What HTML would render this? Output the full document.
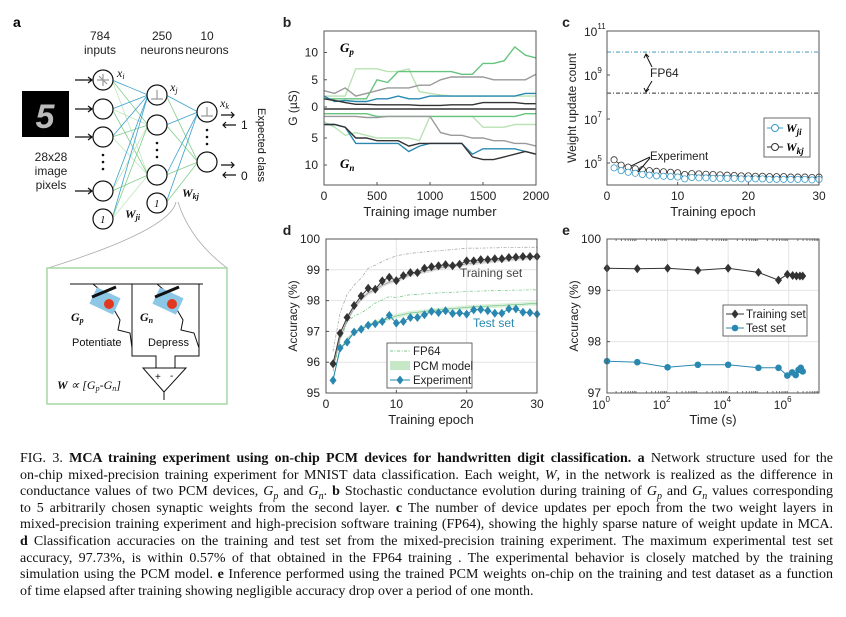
<!DOCTYPE html>
<html><head><meta charset="utf-8">
<style>
html,body{margin:0;padding:0;background:#fff;}
body{width:846px;height:617px;position:relative;overflow:hidden;font-family:"Liberation Sans",sans-serif;}
svg{position:absolute;left:0;top:0;}
.cap{position:absolute;left:20px;width:813px;font-family:"Liberation Serif",serif;font-size:14px;line-height:16px;text-align:justify;text-align-last:justify;white-space:nowrap;color:#111;}
.cap.last{text-align-last:left;}
</style></head>
<body>
<svg id="fig" width="846" height="440" viewBox="0 0 846 440" font-family="Liberation Sans, sans-serif">
<!-- panel a -->
<g>
<text x="13" y="27" font-weight="bold" font-size="14">a</text>
<g font-size="12" fill="#222" text-anchor="middle">
<text x="100" y="40">784</text><text x="100" y="54">inputs</text>
<text x="162" y="40">250</text><text x="162" y="54">neurons</text>
<text x="207" y="40">10</text><text x="207" y="54">neurons</text>
<text x="51" y="161">28x28</text><text x="51" y="175">image</text><text x="51" y="189">pixels</text>
</g>
<rect x="22" y="91" width="47" height="46" fill="#000"/>
<text x="45" y="128" text-anchor="middle" font-size="34" font-style="italic" font-weight="bold" fill="#bbb" font-family="Liberation Sans, sans-serif">5</text>
<g id="conn" stroke-width="0.8"></g>
<g id="nodes" fill="#fff" stroke="#111" stroke-width="1.2"></g>
<g font-family="Liberation Serif, serif" font-style="italic" font-size="12" fill="#111">
<text x="117" y="77">x<tspan font-size="8" dy="2">i</tspan></text>
<text x="170" y="91">x<tspan font-size="8" dy="2">j</tspan></text>
<text x="220" y="107">x<tspan font-size="8" dy="2">k</tspan></text>
<text x="125" y="218" font-weight="bold">W<tspan font-size="8" dy="2">ji</tspan></text>
<text x="182" y="197" font-weight="bold">W<tspan font-size="8" dy="2">kj</tspan></text>
</g>
<g font-size="12" fill="#111">
<text x="241" y="129">1</text><text x="241" y="180">0</text>
<text transform="translate(258,108) rotate(90)" font-size="11">Expected class</text>
</g>
<path d="M176 202 Q 170 230 48 268 M178 202 Q 190 240 227 268" fill="none" stroke="#aaa" stroke-width="0.8"/>
<rect x="47" y="268" width="180" height="136" fill="#fff" stroke="#a6d9a6" stroke-width="1.5"/>
<g stroke="#111" stroke-width="1" fill="none">
<path d="M70 284 H203 M132 284 V356 H156 V368 M199 284 V356 H175 V368"/>
<path d="M143 368 H186 L164 392 Z M164 392 V400"/>
<path d="M93 284 L100 290 M157 284 L164 290"/>
<path d="M113 308 L120 320 L118 330 L130 333 L132 348 M176 308 L183 320 L181 330 L194 333 L199 348"/>
</g>
<g>
<rect x="92" y="292" width="26" height="18" fill="#8cc8e6" transform="rotate(25 105 301)"/>
<rect x="155" y="292" width="26" height="18" fill="#8cc8e6" transform="rotate(25 168 301)"/>
<circle cx="109" cy="304" r="5" fill="#e0391f"/><circle cx="172" cy="304" r="5" fill="#e0391f"/>
<line x1="90" y1="291" x2="114" y2="281" stroke="#111" stroke-width="3" transform="translate(2,6)"/>
<line x1="153" y1="291" x2="177" y2="281" stroke="#111" stroke-width="3" transform="translate(2,6)"/>
</g>
<g font-size="11" fill="#111">
<text x="71" y="321" font-family="Liberation Serif, serif" font-style="italic" font-weight="bold" font-size="12">G<tspan font-size="8" dy="2">p</tspan></text>
<text x="140" y="321" font-family="Liberation Serif, serif" font-style="italic" font-weight="bold" font-size="12">G<tspan font-size="8" dy="2">n</tspan></text>
<text x="72" y="346">Potentiate</text><text x="148" y="346">Depress</text>
<text x="155" y="380" font-size="10">+</text><text x="170" y="379" font-size="10">-</text>
<text x="57" y="389" font-family="Liberation Serif, serif" font-style="italic" font-size="12"><tspan font-weight="bold">W</tspan> ∝ [G<tspan font-size="8" dy="2">p</tspan><tspan dy="-2">-G</tspan><tspan font-size="8" dy="2">n</tspan><tspan dy="-2">]</tspan></text>
</g>
</g>
<g id="pb"></g>
<g id="pc"></g>
<g id="pd"></g>
<g id="pe"></g>
</svg>

<div class="cap" style="top:451px"><span style="font-family:'Liberation Serif',serif">FIG. 3. </span> <b>MCA training experiment using on-chip PCM devices for handwritten digit classification.</b> <b>a</b> Network structure used for the</div>
<div class="cap" style="top:467.6px">on-chip mixed-precision training experiment for MNIST data classification. Each weight, <i>W</i>, in the network is realized as the difference in</div>
<div class="cap" style="top:484.2px">conductance values of two PCM devices, <i>G<sub style="font-size:10px">p</sub></i> and <i>G<sub style="font-size:10px">n</sub></i>. <b>b</b> Stochastic conductance evolution during training of <i>G<sub style="font-size:10px">p</sub></i> and <i>G<sub style="font-size:10px">n</sub></i> values corresponding</div>
<div class="cap" style="top:500.8px">to 5 arbitrarily chosen synaptic weights from the second layer. <b>c</b> The number of device updates per epoch from the two weight layers in</div>
<div class="cap" style="top:517.4px">mixed-precision training experiment and high-precision software training (FP64), showing the highly sparse nature of weight update in MCA.</div>
<div class="cap" style="top:534px"><b>d</b> Classification accuracies on the training and test set from the mixed-precision training experiment. The maximum experimental test set</div>
<div class="cap" style="top:550.6px">accuracy, 97.73%, is within 0.57% of that obtained in the FP64 training . The experimental behavior is closely matched by the training</div>
<div class="cap" style="top:567.2px">simulation using the PCM model. <b>e</b> Inference performed using the trained PCM weights on-chip on the training and test dataset as a function</div>
<div class="cap last" style="top:583.8px">of time elapsed after training showing negligible accuracy drop over a period of one month.</div>

<script>
// ---------- data ----------
const bImages = [0,100,200,300,400,500,600,700,800,900,1000,1100,1200,1300,1400,1500,1600,1700,1800,1900,2000];
const gpLightGreen = [2,2,2,7,7,7,6.5,6.5,7,2.8,2.5,2.2,2,2,2,2,2,2,2,2,2];
const gpGreen = [1.5,1.5,1.5,1.5,1.5,5,4.5,6.5,6.5,6.5,6.5,6.5,6.5,6,6,8,8,8.5,11,9.5,9];
const gpGray = [3,2.5,3.5,2,2.5,3,3.5,3.5,3.5,4,4,5,5.5,5.5,5.5,5.5,5,5,5,5,6];
const gpBlue = [2,1,1.2,1,1,1.5,1.5,2,1.5,1.5,2,2,2,2,2,2,2,2,2,2.5,2.5];
const gpBlack = [1.5,1.2,0.8,0.5,0.5,0.4,0.4,0.4,0.4,0.3,0.3,0.3,0.4,0.4,0.4,0.8,0.8,0.8,0.8,0.6,0.6];
const gnLightGreen = [2,3,4.5,4,4.5,5,5,5,5,5.5,1,1,1,1,1,3,3,3,2.5,2.5,2.5];
const gnGreen = [0.5,0.5,0.5,0.5,0.5,1,1,1,1,1,1,1,1,1,1,1,1,1,1,0.5,0.5];
const gnGray = [1,1,1,1,1.2,1.2,1,1,1,1,1,4,4.5,4.5,5,5,5.5,5.5,6,6,6.5];
const gnBlue = [2.5,2.5,3,6,6,6,6,6,7.5,6.5,6,6,6,6,8,7,7,7,7,7.5,8];
const gnBlack = [2.5,2.5,3,5,5,5.5,5.5,5.5,6.5,6,6,6,6,6,8.5,9,9,8.5,8,7.5,8];
const bXTicks = [0,500,1000,1500,2000];

const epochs = [1,2,3,4,5,6,7,8,9,10,11,12,13,14,15,16,17,18,19,20,21,22,23,24,25,26,27,28,29,30];
const wjiCounts = [6e4,4.5e4,3.8e4,3.4e4,3e4,2.8e4,2.6e4,2.5e4,2.4e4,2.3e4,1.9e4,2.2e4,2.1e4,2.1e4,2e4,2e4,2e4,2e4,1.9e4,1.9e4,1.9e4,1.9e4,1.8e4,1.8e4,1.8e4,1.8e4,1.8e4,1.8e4,1.7e4,1.8e4];
const wkjCounts = [1.4e5,8e4,6.5e4,5.5e4,5e4,4.5e4,4.2e4,4e4,3.8e4,3.6e4,3e4,3.3e4,3.2e4,3.1e4,3e4,2.9e4,2.8e4,2.7e4,2.6e4,2.6e4,2.5e4,2.5e4,2.4e4,2.4e4,2.4e4,2.3e4,2.3e4,2.3e4,2.2e4,2.3e4];
const fp64Counts = [1.1e10,1.5e8];
const cYTickExp = [5,7,9,11];
const epochTicks = [0,10,20,30];

const trainExp = [95.95,96.94,97.45,97.84,98.15,98.4,98.37,98.64,98.76,98.65,98.81,98.91,98.91,99.05,99.1,99.13,99.17,99.13,99.18,99.29,99.29,99.33,99.33,99.36,99.36,99.4,99.41,99.43,99.43,99.43];
const testExp = [95.41,96.46,96.65,96.98,97.07,97.2,97.25,97.32,97.52,97.27,97.32,97.45,97.45,97.54,97.65,97.61,97.67,97.58,97.6,97.56,97.7,97.71,97.67,97.59,97.59,97.73,97.73,97.62,97.61,97.56];
const trainPCM = [95.8,96.8,97.35,97.75,98.05,98.25,98.35,98.5,98.6,98.65,98.75,98.85,98.9,98.95,99.0,99.05,99.1,99.12,99.15,99.2,99.22,99.25,99.27,99.3,99.32,99.34,99.36,99.38,99.4,99.4];
const testPCM = [95.45,96.4,96.75,96.95,97.1,97.2,97.3,97.35,97.42,97.5,97.55,97.6,97.62,97.65,97.68,97.7,97.72,97.74,97.76,97.78,97.8,97.81,97.82,97.83,97.84,97.86,97.87,97.88,97.9,97.9];
const trainFP64 = [96.35,97.6,98.2,98.5,98.73,99.05,99.15,99.27,99.37,99.45,99.5,99.53,99.56,99.58,99.6,99.62,99.64,99.66,99.68,99.7,99.7,99.7,99.71,99.71,99.72,99.72,99.72,99.73,99.73,99.73];
const testFP64 = [95.7,96.7,97.3,97.5,97.6,97.75,97.92,98.02,98.13,98.1,98.15,98.19,98.2,98.22,98.24,98.25,98.26,98.27,98.28,98.3,98.31,98.31,98.32,98.32,98.33,98.33,98.34,98.34,98.35,98.35];
const dYTicks = [95,96,97,98,99,100];

const times = [1,10,100,1000,1e4,1e5,4.6e5,9e5,1.35e6,1.8e6,2.35e6,2.9e6];
const trainRet = [99.43,99.42,99.43,99.39,99.43,99.35,99.2,99.31,99.29,99.28,99.28,99.28];
const testTimes = [1,10,100,1000,1e4,1e5,4.6e5,9e5,1.3e6,1.7e6,2.1e6,2.5e6,2.9e6];
const testRet = [97.62,97.6,97.5,97.55,97.55,97.49,97.49,97.34,97.4,97.35,97.45,97.49,97.42];
const eYTicks = [97,98,99,100];
const eXTickExp = [0,2,4,6];

// ---------- helpers ----------
const NS = 'http://www.w3.org/2000/svg';
function mk(parent, tag, attrs, txt){const e=document.createElementNS(NS,tag);for(const k in attrs)e.setAttribute(k,attrs[k]);if(txt!==undefined)e.textContent=txt;parent.appendChild(e);return e;}
function lin(d0,d1,r0,r1){return v=>r0+(v-d0)/(d1-d0)*(r1-r0);}
function pts(xs,ys,fx,fy){return xs.map((x,i)=>fx(x).toFixed(1)+','+fy(ys[i]).toFixed(1)).join(' ');}

(function(){
 const conn=document.getElementById('conn'), nodes=document.getElementById('nodes');
 const inp=[[103,80],[103,109],[103,137],[103,191],[103,219]];
 const hid=[[157,95],[157,125],[157,175],[157,203]];
 const out=[[207,112],[207,162]];
 inp.forEach((a,i)=>hid.slice(0,3).forEach((b,j)=>{
   const l=mk(conn,'line',{x1:a[0]+9,y1:a[1],x2:b[0]-9,y2:b[1],stroke:(j===0?'#3a9fcf':(i+j)%2?'#7fcf8a':'#bfe6bd')});
   
   
 }));
 hid.forEach((a,i)=>out.forEach((b,j)=>{
   const l=mk(conn,'line',{x1:a[0]+9,y1:a[1],x2:b[0]-9,y2:b[1],stroke:(j===0?'#3a9fcf':'#7fcf8a')});
   
   
 }));
 inp.forEach((p,i)=>{
   const c=mk(nodes,'circle',{cx:p[0],cy:p[1],r:10});
   
   
   if(i<4){const a=mk(nodes,'path',{d:`M75 ${p[1]} H92 M88 ${p[1]-3} L92 ${p[1]} L88 ${p[1]+3}`,fill:'none',stroke:'#111'});
   
   }
 });
 hid.forEach(p=>{const c=mk(nodes,'circle',{cx:p[0],cy:p[1],r:10});
   
   });
 out.forEach((p,i)=>{const c=mk(nodes,'circle',{cx:p[0],cy:p[1],r:10});
   
   
   const y=p[1]+3;
   mk(nodes,'path',{d:`M221 ${y} H234 M231 ${y-3} L234 ${y} L231 ${y+3} M236 ${y+10} H223 M226 ${y+7} L223 ${y+10} L226 ${y+13}`,fill:'none',stroke:'#111'});});
 [[103,217,'1'],[157,201,'1']].forEach(t=>mk(nodes,'text',{x:t[0]-3,y:t[1]+6,'font-size':11,'font-style':'italic',fill:'#111',stroke:'none','font-family':'Liberation Serif, serif'},t[2]));
 const dots=[[103,155],[103,162],[103,169],[157,143],[157,150],[157,157],[207,130],[207,137],[207,144]];
 dots.forEach(d=>mk(nodes,'circle',{cx:d[0],cy:d[1],r:1.3,fill:'#111',stroke:'none'}));
 mk(nodes,'path',{d:'M97 80 H109 M103 74 V86 M99 76 L107 84',stroke:'#999',fill:'none'});
 [[157,95],[207,112]].forEach(p=>mk(nodes,'path',{d:`M${p[0]-6} ${p[1]+4} H${p[0]} V${p[1]-5} M${p[0]} ${p[1]+4} H${p[0]+6}`,stroke:'#999',fill:'none'}));
})();

function frame(g,L,R,T,B){const r=mk(g,'rect',{x:L,y:T,width:R-L,height:B-T,fill:'none',stroke:'#555','stroke-width':1});
 
 }
function label(g,x,y,t,opts){return mk(g,'text',Object.assign({x:x,y:y,'font-size':12,fill:'#222','text-anchor':'middle'},opts||{}),t);}

(function(){
 const g=document.getElementById('pb');
 const L=324,R=536,T=31,B=185;
 const fx=lin(0,2000,L,R), fyU=lin(0,10,107,52.5), fyL=lin(0,10,111,165);
 label(g,287,27,'b',{'font-weight':'bold','font-size':14});
 const traces=[[gpLightGreen,gnLightGreen,'#b9e3b3','lightgreen'],[gpGreen,gnGreen,'#66c47f','green'],[gpGray,gnGray,'#9a9a9a','gray'],[gpBlue,gnBlue,'#2a88b0','blue'],[gpBlack,gnBlack,'#333','black']];
 traces.forEach(t=>{
  const p1=mk(g,'polyline',{points:pts(bImages,t[0],fx,fyU),fill:'none',stroke:t[2],'stroke-width':1.4});
  
  
  const p2=mk(g,'polyline',{points:pts(bImages,t[1],fx,fyL),fill:'none',stroke:t[2],'stroke-width':1.4});
  
  
 });
 mk(g,'line',{x1:L,x2:R,y1:109,y2:109,stroke:'#666','stroke-width':2});
 frame(g,L,R,T,B);
 [[10,fyU],[5,fyU],[0,fyU],[5,fyL],[10,fyL]].forEach(v=>{label(g,318,v[1](v[0])+4,String(v[0]),{'text-anchor':'end'});mk(g,'line',{x1:L,x2:L+3,y1:v[1](v[0]),y2:v[1](v[0]),stroke:'#555'});});
 bXTicks.forEach(v=>{label(g,fx(v),200,String(v));mk(g,'line',{x1:fx(v),x2:fx(v),y1:B,y2:B-3,stroke:'#555'});});
 label(g,430,216,'Training image number',{'font-size':13});
 label(g,0,0,'G (µS)',{'font-size':12,transform:'translate(297,108) rotate(-90)'});
 mk(g,'text',{x:340,y:52,'font-size':13,'font-family':'Liberation Serif, serif','font-style':'italic','font-weight':'bold'},'G').appendChild(Object.assign(document.createElementNS(NS,'tspan'),{textContent:'p'}));
 g.lastChild.lastChild.setAttribute('font-size','9');g.lastChild.lastChild.setAttribute('dy','3');
 mk(g,'text',{x:340,y:168,'font-size':13,'font-family':'Liberation Serif, serif','font-style':'italic','font-weight':'bold'},'G').appendChild(Object.assign(document.createElementNS(NS,'tspan'),{textContent:'n'}));
 g.lastChild.lastChild.setAttribute('font-size','9');g.lastChild.lastChild.setAttribute('dy','3');
})();

(function(){
 const g=document.getElementById('pc');
 const L=607,R=819,T=31,B=185;
 const fx=lin(0,30,L,R), fyE=lin(4,11,B,T), fy=v=>fyE(Math.log10(v));
 label(g,566,27,'c',{'font-weight':'bold','font-size':14});
 fp64Counts.forEach((v,i)=>{const l=mk(g,'line',{x1:L,x2:R,y1:fy(v),y2:fy(v),stroke:i?'#333':'#2a88b0','stroke-dasharray':'4 2 1 2','stroke-width':0.9});
  
  });
 mk(g,'polyline',{points:pts(epochs,wjiCounts,fx,fy),fill:'none',stroke:'#3b9cc8','stroke-width':0.9});
 mk(g,'polyline',{points:pts(epochs,wkjCounts,fx,fy),fill:'none',stroke:'#333','stroke-width':0.9});
 epochs.forEach((e,i)=>{
  const a=mk(g,'circle',{cx:fx(e),cy:fy(wkjCounts[i]),r:3.1,fill:'#fff',stroke:'#333','stroke-width':0.8});
  
  
  const b=mk(g,'circle',{cx:fx(e),cy:fy(wjiCounts[i]),r:3.1,fill:'#fff',stroke:'#3b9cc8','stroke-width':0.8});
  
  
 });
 frame(g,L,R,T,B);
 cYTickExp.forEach(p=>{const y=fyE(p);mk(g,'text',{x:584,y:y+5,'font-size':12,fill:'#222'},'10').appendChild(Object.assign(document.createElementNS(NS,'tspan'),{textContent:String(p)}));
  g.lastChild.lastChild.setAttribute('font-size','8');g.lastChild.lastChild.setAttribute('dy','-7');
  mk(g,'line',{x1:L,x2:L+3,y1:y,y2:y,stroke:'#555'});});
 epochTicks.forEach(v=>{label(g,fx(v),200,String(v));mk(g,'line',{x1:fx(v),x2:fx(v),y1:B,y2:B-3,stroke:'#555'});});
 label(g,713,216,'Training epoch',{'font-size':13});
 label(g,0,0,'Weight update count',{'font-size':12,transform:'translate(576,108) rotate(-90)'});
 label(g,650,77,'FP64',{'font-size':12,'text-anchor':'start'});
 mk(g,'path',{d:'M652 67 L646 55 M644 58 L646 54 L649 57 M652 81 L646 91 M644 88 L646 92 L649 89',stroke:'#111',fill:'none'});
 label(g,650,160,'Experiment',{'font-size':11.5,'text-anchor':'start'});
 mk(g,'path',{d:'M650 157 L631 166 M650 158 L638 172',stroke:'#111',fill:'none'});
 const lg=mk(g,'g',{});
 
 
 mk(lg,'rect',{x:764,y:118,width:46,height:39,fill:'#fff',stroke:'#444','stroke-width':0.8});
 mk(lg,'line',{x1:767,x2:783,y1:128,y2:128,stroke:'#3b9cc8'});mk(lg,'circle',{cx:775,cy:128,r:3.5,fill:'#fff',stroke:'#3b9cc8'});
 mk(lg,'line',{x1:767,x2:783,y1:147,y2:147,stroke:'#333'});mk(lg,'circle',{cx:775,cy:147,r:3.5,fill:'#fff',stroke:'#333'});
 mk(lg,'text',{x:786,y:132,'font-size':12,'font-family':'Liberation Serif, serif','font-style':'italic','font-weight':'bold'},'W').appendChild(Object.assign(document.createElementNS(NS,'tspan'),{textContent:'ji'}));
 lg.lastChild.lastChild.setAttribute('font-size','9');lg.lastChild.lastChild.setAttribute('dy','3');
 mk(lg,'text',{x:786,y:151,'font-size':12,'font-family':'Liberation Serif, serif','font-style':'italic','font-weight':'bold'},'W').appendChild(Object.assign(document.createElementNS(NS,'tspan'),{textContent:'kj'}));
 lg.lastChild.lastChild.setAttribute('font-size','9');lg.lastChild.lastChild.setAttribute('dy','3');
})();

(function(){
 const g=document.getElementById('pd');
 const L=326,R=537,T=239,B=393;
 const fx=lin(0,30,L,R), fy=lin(95,100,B,T);
 label(g,287,235,'d',{'font-weight':'bold','font-size':14});
 [10,20].forEach(v=>mk(g,'line',{x1:fx(v),x2:fx(v),y1:T,y2:B,stroke:'#e4e4e4'}));
 dYTicks.forEach(v=>mk(g,'line',{x1:L,x2:R,y1:fy(v),y2:fy(v),stroke:'#e4e4e4'}));
 function band(vals,col,name){const up=epochs.map((e,i)=>fx(e).toFixed(1)+','+fy(vals[i]+0.07).toFixed(1));
  const dn=epochs.slice().reverse().map((e,k)=>{const i=epochs.length-1-k;return fx(e).toFixed(1)+','+fy(vals[i]-0.07).toFixed(1);});
  const p=mk(g,'polygon',{points:up.concat(dn).join(' '),fill:col,opacity:0.6});
  
  
  mk(g,'polyline',{points:pts(epochs,vals,fx,fy),fill:'none',stroke:col==='#c7e8c7'?'#7cc98c':'#999','stroke-width':0.8});}
 band(trainPCM,'#cfcfcf','pcm-model-train-band');
 band(testPCM,'#c7e8c7','pcm-model-test-band');
 const f1=mk(g,'polyline',{points:pts(epochs,trainFP64,fx,fy),fill:'none',stroke:'#aaa','stroke-width':0.8,'stroke-dasharray':'3 1.5 1 1.5'});
 
 
 const f2=mk(g,'polyline',{points:pts(epochs,testFP64,fx,fy),fill:'none',stroke:'#7cc98c','stroke-width':0.8,'stroke-dasharray':'3 1.5 1 1.5'});
 
 
 mk(g,'polyline',{points:pts(epochs,trainExp,fx,fy),fill:'none',stroke:'#333','stroke-width':1});
 mk(g,'polyline',{points:pts(epochs,testExp,fx,fy),fill:'none',stroke:'#2a88b0','stroke-width':1});
 function diamond(x,y,c,n){const d=mk(g,'path',{d:`M${x} ${y-4.5} L${x+3.5} ${y} L${x} ${y+4.5} L${x-3.5} ${y} Z`,fill:c});
  
  }
 epochs.forEach((e,i)=>{diamond(fx(e),fy(trainExp[i]),'#333','train-exp-point');diamond(fx(e),fy(testExp[i]),'#2a88b0','test-exp-point');});
 frame(g,L,R,T,B);
 dYTicks.forEach(v=>{label(g,320,fy(v)+4,String(v),{'text-anchor':'end'});mk(g,'line',{x1:L,x2:L+3,y1:fy(v),y2:fy(v),stroke:'#555'});});
 epochTicks.forEach(v=>{label(g,fx(v),408,String(v));mk(g,'line',{x1:fx(v),x2:fx(v),y1:B,y2:B-3,stroke:'#555'});});
 label(g,431,424,'Training epoch',{'font-size':13});
 label(g,0,0,'Accuracy (%)',{'font-size':12,transform:'translate(297,316) rotate(-90)'});
 label(g,460,277,'Training set',{'font-size':12,fill:'#444','text-anchor':'start'});
 label(g,473,327,'Test set',{'font-size':12,fill:'#2a88b0','text-anchor':'start'});
 const lg=mk(g,'g',{});
 
 
 mk(lg,'rect',{x:387,y:343,width:85,height:45,fill:'#fff',stroke:'#444','stroke-width':0.8});
 mk(lg,'line',{x1:390,x2:410,y1:351,y2:351,stroke:'#7cc98c','stroke-dasharray':'3 1.5 1 1.5'});
 mk(lg,'rect',{x:390,y:361,width:20,height:9,fill:'#c7e8c7'});
 mk(lg,'line',{x1:390,x2:410,y1:380,y2:380,stroke:'#2a88b0'});
 mk(lg,'path',{d:'M400 375.5 L403.5 380 L400 384.5 L396.5 380 Z',fill:'#2a88b0'});
 label(lg,413,355,'FP64',{'font-size':11.5,'text-anchor':'start'});
 label(lg,413,370,'PCM model',{'font-size':11.5,'text-anchor':'start'});
 label(lg,413,384,'Experiment',{'font-size':11.5,'text-anchor':'start'});
})();

(function(){
 const g=document.getElementById('pe');
 const L=607,R=819,T=239,B=393;
 const fxE=lin(0,7,L,R), fx=v=>fxE(Math.log10(v)), fy=lin(97,100,B,T);
 label(g,566,235,'e',{'font-weight':'bold','font-size':14});
 eXTickExp.forEach(v=>mk(g,'line',{x1:fxE(v),x2:fxE(v),y1:T,y2:B,stroke:'#e4e4e4'}));
 eYTicks.forEach(v=>mk(g,'line',{x1:L,x2:R,y1:fy(v),y2:fy(v),stroke:'#e4e4e4'}));
 for(let d=0;d<7;d++)for(let k=2;k<10;k++){const x=fxE(d+Math.log10(k));mk(g,'line',{x1:x,x2:x,y1:T,y2:T+2,stroke:'#777'});mk(g,'line',{x1:x,x2:x,y1:B,y2:B-2,stroke:'#777'});}
 mk(g,'polyline',{points:pts(times,trainRet,fx,fy),fill:'none',stroke:'#333','stroke-width':1});
 mk(g,'polyline',{points:pts(testTimes,testRet,fx,fy),fill:'none',stroke:'#2a88b0','stroke-width':1});
 times.forEach((t,i)=>{const x=fx(t),y=fy(trainRet[i]);const d=mk(g,'path',{d:`M${x} ${y-4.5} L${x+3.5} ${y} L${x} ${y+4.5} L${x-3.5} ${y} Z`,fill:'#333'});
  
  });
 testTimes.forEach((t,i)=>{const c=mk(g,'circle',{cx:fx(t),cy:fy(testRet[i]),r:3.3,fill:'#2a88b0'});
  
  });
 frame(g,L,R,T,B);
 eYTicks.forEach(v=>{label(g,601,fy(v)+4,String(v),{'text-anchor':'end'});mk(g,'line',{x1:L,x2:L+3,y1:fy(v),y2:fy(v),stroke:'#555'});});
 eXTickExp.forEach(p=>{const x=fxE(p);mk(g,'text',{x:x-6,y:409,'font-size':12,fill:'#222','text-anchor':'middle'},'10').appendChild(Object.assign(document.createElementNS(NS,'tspan'),{textContent:String(p)}));
  g.lastChild.lastChild.setAttribute('font-size','8');g.lastChild.lastChild.setAttribute('dy','-7');});
 label(g,713,424,'Time (s)',{'font-size':13});
 label(g,0,0,'Accuracy (%)',{'font-size':12,transform:'translate(578,316) rotate(-90)'});
 const lg=mk(g,'g',{});
 
 
 mk(lg,'rect',{x:723,y:305,width:84,height:31,fill:'#fff',stroke:'#444','stroke-width':0.8});
 mk(lg,'line',{x1:726,x2:744,y1:314,y2:314,stroke:'#333'});
 mk(lg,'path',{d:'M735 309.5 L738.5 314 L735 318.5 L731.5 314 Z',fill:'#333'});
 mk(lg,'line',{x1:726,x2:744,y1:328,y2:328,stroke:'#2a88b0'});
 mk(lg,'circle',{cx:735,cy:328,r:3.3,fill:'#2a88b0'});
 label(lg,746,318,'Training set',{'font-size':11.5,'text-anchor':'start'});
 label(lg,746,332,'Test set',{'font-size':11.5,'text-anchor':'start'});
})();
</script>
</body></html>
